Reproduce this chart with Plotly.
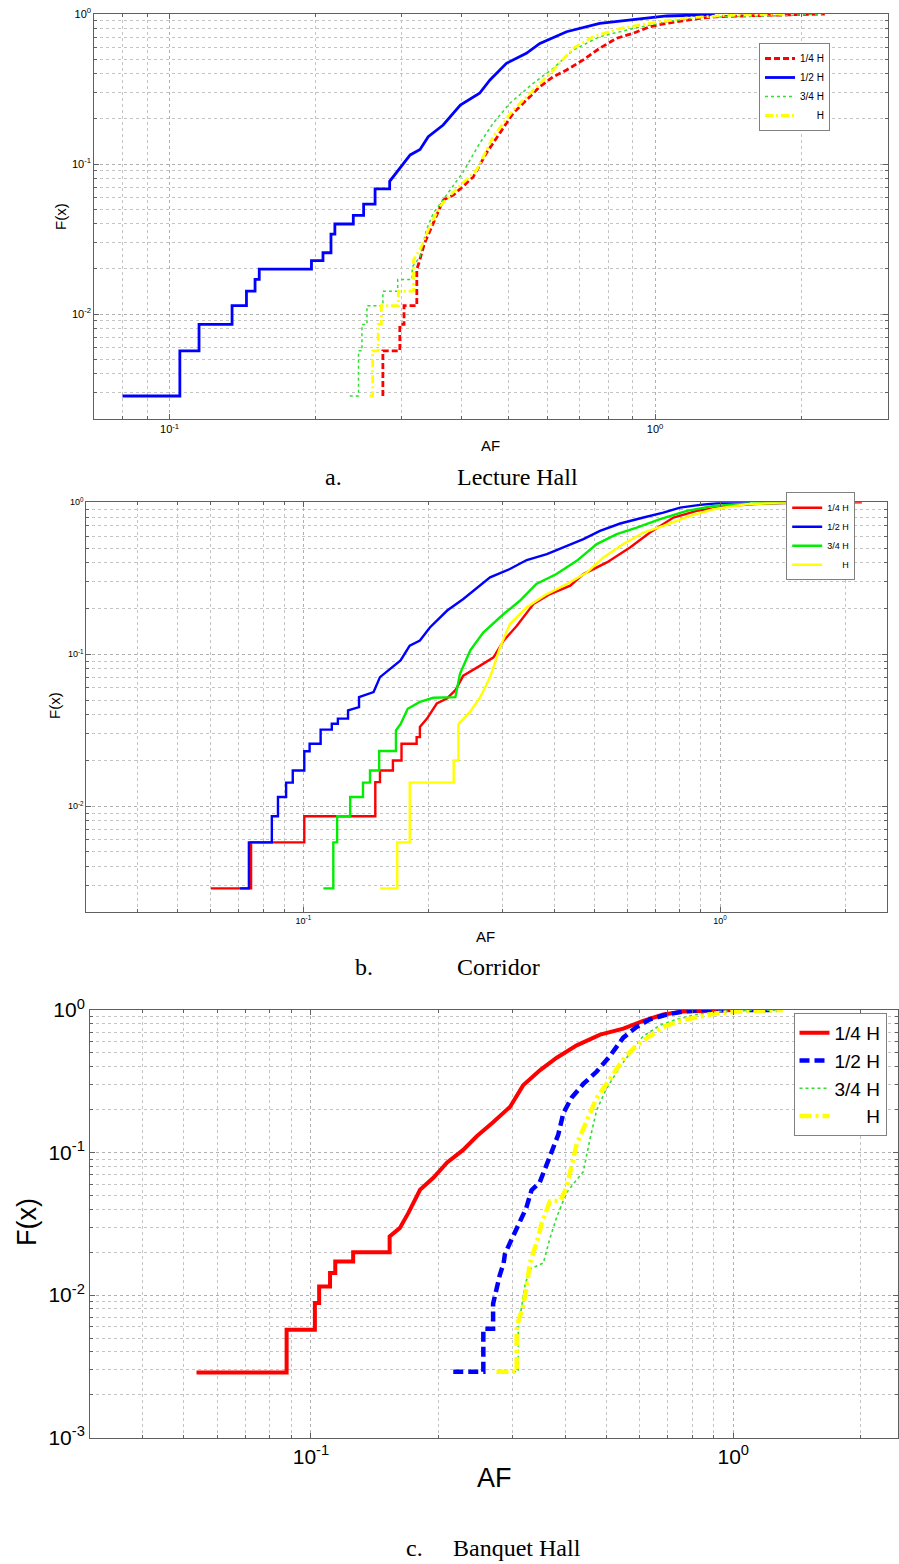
import math
import plotly.graph_objects as go

W, H = 899, 1564

# ---------------- (a) Lecture Hall ----------------
lecture_quarter_af = [0.275,0.275,0.298,0.298,0.304,0.304,0.323,0.323,0.326,0.335,0.349,0.366,0.384,0.422,0.449,0.479,0.510,0.552,0.579,0.617,0.657,0.711,0.769,0.833,0.901,0.975,1.056,1.236,1.338,1.566,2.236]
lecture_quarter_f = [0.00284,0.00568,0.00568,0.00852,0.00852,0.01136,0.01136,0.0199,0.0217,0.0296,0.0401,0.0575,0.062,0.082,0.118,0.160,0.218,0.281,0.328,0.382,0.423,0.494,0.591,0.689,0.743,0.823,0.867,0.936,0.959,0.974,1.0]

lecture_half_af = [0.080,0.105,0.105,0.115,0.115,0.1345,0.1345,0.144,0.144,0.150,0.150,0.153,0.153,0.196,0.196,0.207,0.207,0.215,0.215,0.219,0.219,0.239,0.239,0.251,0.251,0.265,0.265,0.284,0.284,0.301,0.313,0.328,0.341,0.366,0.397,0.435,0.457,0.494,0.543,0.579,0.657,0.769,0.901,1.056,1.236,1.327]
lecture_half_f = [0.00284,0.00284,0.00568,0.00568,0.00852,0.00852,0.01136,0.01136,0.0142,0.0142,0.0170,0.0170,0.0199,0.0199,0.0227,0.0227,0.0256,0.0256,0.0341,0.0341,0.0398,0.0398,0.0455,0.0455,0.0540,0.0540,0.0682,0.0682,0.0767,0.098,0.115,0.125,0.152,0.182,0.247,0.296,0.363,0.469,0.547,0.637,0.762,0.867,0.921,0.970,0.985,1.0]

lecture_3q_af = [0.235,0.245,0.245,0.249,0.249,0.255,0.255,0.275,0.275,0.295,0.295,0.316,0.316,0.328,0.338,0.349,0.372,0.402,0.435,0.464,0.502,0.561,0.617,0.678,0.769,0.901,1.056,1.236,1.835,2.21]
lecture_3q_f = [0.00284,0.00284,0.00568,0.00568,0.00852,0.00852,0.01136,0.01136,0.0142,0.0142,0.0170,0.0170,0.0206,0.024,0.0363,0.0468,0.0622,0.088,0.137,0.187,0.254,0.345,0.435,0.575,0.706,0.80,0.889,0.95,0.974,1.0]

lecture_full_af = [0.258,0.262,0.262,0.269,0.269,0.273,0.273,0.296,0.296,0.318,0.318,0.330,0.343,0.360,0.384,0.429,0.464,0.510,0.561,0.617,0.678,0.745,0.846,0.975,1.142,1.40,1.835]
lecture_full_f = [0.00284,0.00284,0.00568,0.00568,0.00852,0.00852,0.01136,0.01136,0.0142,0.0142,0.0229,0.028,0.038,0.052,0.065,0.091,0.152,0.229,0.311,0.423,0.59,0.706,0.80,0.867,0.936,0.98,1.0]

# ---------------- (b) Corridor ----------------
corridor_quarter_af = [0.060,0.0749,0.0749,0.1005,0.1005,0.1488,0.1488,0.1527,0.1527,0.164,0.164,0.172,0.172,0.187,0.187,0.1904,0.1904,0.198,0.209,0.221,0.2316,0.242,0.2657,0.286,0.3024,0.3254,0.3565,0.391,0.437,0.470,0.535,0.608,0.679,0.773,0.879,1.057,1.27,1.6,2.19]
corridor_quarter_f = [0.00288,0.00288,0.00578,0.00578,0.0086,0.0086,0.0144,0.0144,0.0172,0.0172,0.020,0.020,0.0258,0.0258,0.0285,0.0285,0.0333,0.0377,0.0474,0.0511,0.058,0.0723,0.0842,0.0955,0.123,0.154,0.214,0.249,0.283,0.337,0.402,0.505,0.632,0.794,0.878,0.947,0.98,0.995,1.0]

corridor_half_af = [0.0705,0.074,0.074,0.084,0.084,0.0869,0.0869,0.0909,0.0909,0.0943,0.0943,0.1005,0.1005,0.1035,0.1035,0.110,0.110,0.117,0.117,0.121,0.121,0.128,0.128,0.136,0.136,0.1474,0.1527,0.1711,0.180,0.1904,0.2012,0.2214,0.242,0.2561,0.2806,0.313,0.3436,0.384,0.421,0.470,0.515,0.576,0.655,0.731,0.802,0.895,1.0,1.18]
corridor_half_f = [0.00288,0.00288,0.00578,0.00578,0.0086,0.0086,0.0115,0.0115,0.0143,0.0143,0.0172,0.0172,0.023,0.023,0.0258,0.0258,0.0319,0.0319,0.0349,0.0349,0.0377,0.0377,0.0427,0.0449,0.0522,0.0564,0.0707,0.091,0.114,0.123,0.150,0.194,0.231,0.262,0.321,0.364,0.417,0.456,0.505,0.572,0.649,0.725,0.794,0.856,0.923,0.962,0.99,1.0]

corridor_3q_af = [0.1117,0.118,0.118,0.1205,0.1205,0.1295,0.1295,0.139,0.139,0.1445,0.1445,0.152,0.152,0.1668,0.1668,0.171,0.178,0.1904,0.205,0.2316,0.2376,0.2515,0.2702,0.3024,0.3308,0.3624,0.405,0.453,0.506,0.565,0.631,0.718,0.832,0.964,1.159,1.706]
corridor_3q_f = [0.00288,0.00288,0.00578,0.00578,0.0086,0.0086,0.0115,0.0115,0.0143,0.0143,0.0172,0.0172,0.0231,0.0231,0.0316,0.0346,0.0438,0.0486,0.0517,0.0522,0.0744,0.106,0.139,0.184,0.225,0.290,0.337,0.412,0.531,0.617,0.682,0.774,0.878,0.947,0.98,1.0]

corridor_full_af = [0.1528,0.168,0.168,0.180,0.180,0.2295,0.2295,0.2355,0.2355,0.2515,0.2657,0.2806,0.2965,0.313,0.3436,0.384,0.429,0.479,0.525,0.586,0.655,0.731,0.847,0.964,1.159,1.393,1.87]
corridor_full_f = [0.00288,0.00288,0.00578,0.00578,0.0143,0.0143,0.020,0.020,0.0346,0.042,0.0522,0.0707,0.111,0.158,0.204,0.249,0.290,0.345,0.434,0.531,0.632,0.70,0.814,0.90,0.97,0.995,1.0]

# ---------------- (c) Banquet Hall ----------------
banquet_quarter_af = [0.0536,0.0876,0.0876,0.1022,0.1022,0.1046,0.1046,0.111,0.111,0.1142,0.1142,0.1259,0.1259,0.1536,0.1536,0.1623,0.170,0.1813,0.1949,0.2102,0.229,0.247,0.270,0.296,0.318,0.349,0.382,0.426,0.484,0.549,0.612,0.683,0.761,0.90,1.0]
banquet_quarter_f = [0.00287,0.00287,0.00572,0.00572,0.0088,0.0088,0.0115,0.0115,0.0143,0.0143,0.0172,0.0172,0.020,0.020,0.0258,0.0295,0.0376,0.0548,0.0665,0.0853,0.104,0.130,0.163,0.209,0.296,0.379,0.463,0.565,0.672,0.741,0.84,0.929,0.975,1.0,1.0]

banquet_half_af = [0.2173,0.256,0.256,0.270,0.270,0.275,0.280,0.286,0.288,0.3013,0.3123,0.3236,0.333,0.348,0.368,0.385,0.396,0.414,0.4415,0.475,0.510,0.549,0.590,0.635,0.696,0.761,0.834,1.27]
banquet_half_f = [0.0029,0.0029,0.0058,0.0058,0.0087,0.0113,0.0138,0.0168,0.0195,0.026,0.0328,0.041,0.0545,0.0617,0.094,0.133,0.189,0.242,0.303,0.370,0.474,0.640,0.760,0.861,0.929,0.975,0.995,1.0]

banquet_3q_af = [0.3013,0.3097,0.3097,0.316,0.3215,0.330,0.355,0.368,0.382,0.403,0.4415,0.458,0.475,0.501,0.539,0.580,0.612,0.67,0.735,0.819,0.914,1.1,1.31]
banquet_3q_f = [0.0029,0.0029,0.0059,0.0084,0.0119,0.0152,0.0168,0.025,0.0353,0.0525,0.0735,0.125,0.199,0.281,0.398,0.537,0.655,0.78,0.861,0.929,0.975,0.995,1.0]

banquet_full_af = [0.275,0.307,0.307,0.3085,0.318,0.324,0.330,0.343,0.352,0.368,0.390,0.403,0.426,0.449,0.475,0.510,0.549,0.590,0.635,0.683,0.748,0.834,0.914,1.095,1.31]
banquet_full_f = [0.0029,0.0029,0.0057,0.0063,0.0084,0.0113,0.0168,0.0238,0.032,0.0455,0.0460,0.057,0.115,0.163,0.242,0.327,0.451,0.565,0.655,0.76,0.84,0.906,0.95,0.985,1.0]

series_names = ["1/4 H", "1/2 H", "3/4 H", "\u00a0\u00a0\u00a0\u00a0\u00a0\u00a0H"]
panel_captions = ["a.", "b.", "c."]
panel_titles = ["Lecture Hall", "Corridor", "Banquet Hall"]

# ---------------- layout geometry (pixels) ----------------
def px_x(p):
    return p / W

def px_y(p):
    return 1 - p / H

panels = [
    dict(x0=94.3, x1=887.7, y0=14, y1=419, xr=[-1.155, 0.479], yr=[-2.70, 0],
         tick=11, title=15, leg=10, legpos=(794.5, 87), legy="middle",
         ylab=(60, 217), xlab=(490, 445), cap=(333, 455, 477)),
    dict(x0=86.3, x1=886.7, y0=502.3, y1=912, xr=[-1.521, 0.40], yr=[-2.696, 0],
         tick=9, title=15, leg=9, legpos=(820.7, 536.3), legy="middle",
         ylab=(55, 706), xlab=(485, 936), cap=(364, 455, 967)),
    dict(x0=90, x1=898, y0=1010, y1=1437.7, xr=[-1.523, 0.390], yr=[-3, 0],
         tick=21, title=27, leg=19, legpos=(840, 1013), legy="top",
         ylab=(27, 1222), xlab=(494, 1478), cap=(414, 451, 1548)),
]

data = [
    [(lecture_quarter_af, lecture_quarter_f), (lecture_half_af, lecture_half_f),
     (lecture_3q_af, lecture_3q_f), (lecture_full_af, lecture_full_f)],
    [(corridor_quarter_af, corridor_quarter_f), (corridor_half_af, corridor_half_f),
     (corridor_3q_af, corridor_3q_f), (corridor_full_af, corridor_full_f)],
    [(banquet_quarter_af, banquet_quarter_f), (banquet_half_af, banquet_half_f),
     (banquet_3q_af, banquet_3q_f), (banquet_full_af, banquet_full_f)],
]

styles = [
    [dict(color="#ff0000", width=2.8, dash="6px,3px"),
     dict(color="#0000ff", width=2.8, dash="solid"),
     dict(color="#33dd33", width=1.5, dash="dot"),
     dict(color="#ffff00", width=2.8, dash="8px,3px,2px,3px")],
    [dict(color="#ff0000", width=2.4, dash="solid"),
     dict(color="#0000ff", width=2.4, dash="solid"),
     dict(color="#00ee00", width=2.4, dash="solid"),
     dict(color="#ffff00", width=2.4, dash="solid")],
    [dict(color="#ff0000", width=4, dash="solid"),
     dict(color="#0000ff", width=4.5, dash="10px,5px"),
     dict(color="#33dd33", width=1.6, dash="dot"),
     dict(color="#ffff00", width=4.5, dash="12px,4px,3px,4px")],
]

fig = go.Figure()

grid_major = "#b0b0b0"
grid_minor = "#c4c4c4"
line_col = "#606060"
font_sans = "Liberation Sans, Arial, sans-serif"
font_serif = "Liberation Serif, Times New Roman, serif"


def decades(lo, hi):
    return [10.0 ** e for e in range(-4, 2) if lo - 1e-9 <= e <= hi + 1e-9]


def minors(lo, hi):
    out = []
    for e in range(-4, 2):
        for m in range(2, 10):
            v = m * 10.0 ** e
            if lo <= math.log10(v) <= hi:
                out.append(v)
    return out


def label(v):
    return "10<sup>%d</sup>" % int(round(math.log10(v)))


annotations = []
layout_axes = {}
for i, p in enumerate(panels):
    sfx = "" if i == 0 else str(i + 1)
    xa, ya = "xaxis" + sfx, "yaxis" + sfx
    xt, yt = "x" + sfx, "y" + sfx
    leg = "legend" + sfx
    for j, ((xs, ys), st) in enumerate(zip(data[i], styles[i])):
        fig.add_trace(go.Scatter(x=xs, y=ys, mode="lines", name=series_names[j],
                                 line=st, xaxis=xt, yaxis=yt, legend=leg,
                                 showlegend=True))
    xmaj = decades(*p["xr"])
    ymaj = decades(*p["yr"])
    common = dict(type="log", showline=True, mirror="allticks", linecolor=line_col,
                  linewidth=1, ticks="inside", ticklen=5, tickcolor=line_col,
                  showgrid=True, gridcolor=grid_major, griddash="dot", gridwidth=1,
                  zeroline=False, automargin=False,
                  tickfont=dict(family=font_sans, size=p["tick"], color="#000"),
                  tickmode="array")
    minor_common = dict(tickmode="array", ticks="inside", ticklen=3, tickcolor=line_col,
                        showgrid=True, gridcolor=grid_minor, griddash="dot", gridwidth=1)
    layout_axes[xa] = dict(common, domain=[px_x(p["x0"]), px_x(p["x1"])], range=p["xr"],
                           anchor=yt, tickvals=xmaj, ticktext=[label(v) for v in xmaj],
                           minor=dict(minor_common, tickvals=minors(*p["xr"])))
    layout_axes[ya] = dict(common, domain=[px_y(p["y1"]), px_y(p["y0"])], range=p["yr"],
                           anchor=xt, tickvals=ymaj, ticktext=[label(v) for v in ymaj],
                           minor=dict(minor_common, tickvals=minors(*p["yr"])))
    layout_axes[leg] = dict(x=px_x(p["legpos"][0]), y=px_y(p["legpos"][1]),
                            xanchor="center", yanchor=p["legy"], bgcolor="#ffffff",
                            bordercolor="#808080", borderwidth=1, tracegroupgap=0,
                            itemwidth=30, font=dict(family=font_sans, size=p["leg"], color="#000"))
    annotations.append(dict(text="F(x)", x=px_x(p["ylab"][0]), y=px_y(p["ylab"][1]),
                            xref="paper", yref="paper", showarrow=False, textangle=-90,
                            xanchor="center", yanchor="middle",
                            font=dict(family=font_sans, size=p["title"], color="#000")))
    annotations.append(dict(text="AF", x=px_x(p["xlab"][0]), y=px_y(p["xlab"][1]),
                            xref="paper", yref="paper", showarrow=False,
                            xanchor="center", yanchor="middle",
                            font=dict(family=font_sans, size=p["title"], color="#000")))
    annotations.append(dict(text=panel_captions[i], x=px_x(p["cap"][0]), y=px_y(p["cap"][2]),
                            xref="paper", yref="paper", showarrow=False,
                            xanchor="center", yanchor="middle",
                            font=dict(family=font_serif, size=24, color="#000")))
    annotations.append(dict(text=panel_titles[i], x=px_x(p["cap"][1]), y=px_y(p["cap"][2]),
                            xref="paper", yref="paper", showarrow=False,
                            xanchor="left", yanchor="middle",
                            font=dict(family=font_serif, size=24, color="#000")))

fig.update_layout(width=W, height=H, margin=dict(l=0, r=0, t=0, b=0, autoexpand=False),
                  paper_bgcolor="#ffffff", plot_bgcolor="#ffffff",
                  annotations=annotations, **layout_axes)

fig.write_html("out.html", config={"displayModeBar": False},
               post_script="document.body.style.margin='0px';document.body.style.padding='0px';")
